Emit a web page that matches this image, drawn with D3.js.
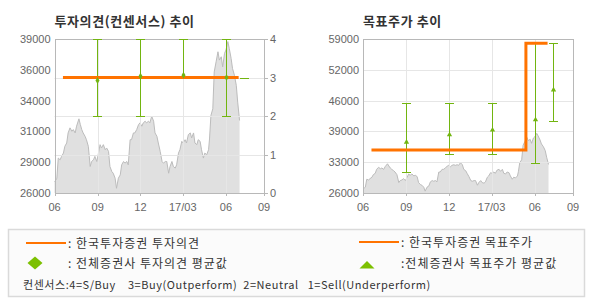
<!DOCTYPE html>
<html>
<head>
<meta charset="utf-8">
<script src="https://cdn.jsdelivr.net/npm/d3@7"></script>
<style>
body { margin: 0; background: #fff; }
.axis-text { font-family: "Liberation Sans", Arial, sans-serif; font-size: 11px; fill: #666; }
.kr { font-family: "Noto Sans CJK KR", sans-serif; }
</style>
</head>
<body>
<svg id="chart" width="590" height="300"></svg>
<script>
// stock price (gray area)
var priceDates = ["2016-06-01","2016-06-04","2016-06-06","2016-06-09","2016-06-13","2016-06-16","2016-06-20","2016-06-23","2016-06-27","2016-06-30",
  "2016-07-04","2016-07-08","2016-07-11","2016-07-15","2016-07-18","2016-07-23","2016-07-26","2016-07-29","2016-08-01","2016-08-05",
  "2016-08-08","2016-08-12","2016-08-16","2016-08-19","2016-08-23","2016-08-26","2016-08-30","2016-09-02","2016-09-06","2016-09-09",
  "2016-09-13","2016-09-17","2016-09-20","2016-09-24","2016-09-27","2016-10-01","2016-10-04","2016-10-08","2016-10-11","2016-10-15",
  "2016-10-19","2016-10-22","2016-10-26","2016-10-29","2016-11-02","2016-11-05","2016-11-09","2016-11-12","2016-11-16","2016-11-19",
  "2016-11-23","2016-11-27","2016-11-30","2016-12-04","2016-12-07","2016-12-11","2016-12-14","2016-12-18","2016-12-21","2016-12-25",
  "2016-12-29","2017-01-01","2017-01-05","2017-01-08","2017-01-12","2017-01-16","2017-01-19","2017-01-23","2017-01-26","2017-01-30",
  "2017-02-02","2017-02-06","2017-02-09","2017-02-13","2017-02-16","2017-02-20","2017-02-23","2017-02-27","2017-03-02","2017-03-06",
  "2017-03-09","2017-03-13","2017-03-17","2017-03-20","2017-03-24","2017-03-27","2017-03-31","2017-04-03","2017-04-07","2017-04-10",
  "2017-04-14","2017-04-17","2017-04-21","2017-04-25","2017-04-27","2017-04-30","2017-05-04","2017-05-07","2017-05-11","2017-05-15",
  "2017-05-18","2017-05-22","2017-05-25","2017-05-29","2017-06-01","2017-06-05","2017-06-08","2017-06-12","2017-06-15","2017-06-19",
  "2017-06-23","2017-06-26","2017-06-30"];
var prices = [26960,27100,27250,28950,28800,29090,29370,29940,30220,31070,
  31500,31210,31350,31070,31640,32260,31780,31350,31070,30790,
  30500,29940,28240,28660,28800,29090,28660,29230,30080,29800,
  30080,29650,29800,29510,28240,27810,27670,27250,26400,27250,
  27530,28380,28660,28520,28660,28380,30500,30500,31070,31070,
  31350,31780,31920,31640,31920,32060,31920,32060,31920,32480,
  32060,31070,30790,30220,29510,28660,28520,28660,28660,27670,
  28240,28660,28240,28100,28380,29370,29650,30360,30220,30500,
  30220,30930,31070,30650,31070,30220,30080,30500,30360,29650,
  28950,29370,29230,29650,30560,32540,33110,36220,37070,37920,
  37220,37500,36650,37790,38070,38780,38210,37360,36510,35940,
  35090,33670,32120];

// x axis
var xTickDates = ["2016-06-01","2016-09-01","2016-12-01","2017-03-01","2017-06-01","2017-08-21"];
var xTickLabels = ["06","09","12","17/03","06","09"];

// consensus (all brokers) dates
var consDates = ["2016-08-31","2016-12-01","2017-03-02","2017-06-01","2017-07-10"];
var opinionHigh = [4, 4, 4, 4, 3];
var opinionLow = [2, 2, 3, 2, 3];
var opinionAvg = [2.92, 3.03, 3.06, 3.0, null];
var targetHigh = [45300, 45300, 45300, 58100, 58100];
var targetLow = [30500, 34400, 34400, 32400, 41400];
var targetAvg = [36900, 38500, 39500, 41700, 48100];

// 한국투자증권 own opinion / target
var kisOpinionDates = ["2016-06-19", "2017-06-28"];
var kisOpinion = [3, 3];
var kisTargetDates = ["2016-06-19", "2017-05-13", "2017-06-28"];
var kisTarget = [35200, 58100, 58100];

// y axis labels
var leftPriceLabels = ["26000","29000","31000","34000","36000","39000"];
var rightPriceLabels = ["26000","33000","39000","46000","52000","59000"];
var opinionTicks = [0, 1, 2, 3, 4];

var ORANGE = "#ff7300", GREEN = "#72b510", GRID = "#e6e6e6", FRAME = "#b8b8b8";

var svg = d3.select("#chart");
svg.append("rect").attr("width", 590).attr("height", 300).attr("fill", "#fff");

var parse = d3.timeParse("%Y-%m-%d");
var priceData = priceDates.map(function(d, i) { return {date: parse(d), value: prices[i]}; });
function crisp(v) { return Math.round(v) + 0.5; }

function drawPanel(p) {
  var g = svg.append("g");
  var top = 39, bottom = 193;
  var x = d3.scaleTime()
    .domain([parse(xTickDates[0]), parse(xTickDates[xTickDates.length - 1])])
    .range([p.left, p.right]);
  var y = d3.scaleLinear().domain([26000, p.priceMax]).range([bottom, top]);
  var priceTicks = d3.range(6).map(function(i) { return 26000 + i * (p.priceMax - 26000) / 5; });

  // title
  g.append("text").attr("class", "kr")
    .attr("x", p.left).attr("y", 26)
    .attr("font-size", "13px").attr("font-weight", "bold").attr("fill", "#333")
    .attr("letter-spacing", "0.6px")
    .text(p.title);

  // price area
  g.append("path").datum(priceData)
    .attr("fill", "#e0e0e0")
    .attr("d", d3.area().x(function(d) { return x(d.date); }).y0(bottom).y1(function(d) { return y(d.value); }));
  g.append("path").datum(priceData)
    .attr("fill", "none").attr("stroke", "#bcbcbc").attr("stroke-width", 1)
    .attr("d", d3.line().x(function(d) { return x(d.date); }).y(function(d) { return y(d.value); }));

  // grid
  var yG = p.gridScale || y;
  var gridVals = p.gridScale ? opinionTicks : priceTicks;
  g.selectAll(".hgrid").data(gridVals.slice(1, -1)).enter().append("line")
    .attr("x1", p.left).attr("x2", p.right)
    .attr("y1", function(d) { return crisp(yG(d)); }).attr("y2", function(d) { return crisp(yG(d)); })
    .attr("stroke", GRID);
  g.selectAll(".vgrid").data(xTickDates.slice(1, -1)).enter().append("line")
    .attr("x1", function(d) { return crisp(x(parse(d))); }).attr("x2", function(d) { return crisp(x(parse(d))); })
    .attr("y1", top).attr("y2", bottom)
    .attr("stroke", GRID);

  // frame
  g.append("rect")
    .attr("x", crisp(p.left)).attr("y", crisp(top))
    .attr("width", Math.round(p.right) - Math.round(p.left)).attr("height", bottom - top)
    .attr("fill", "none").attr("stroke", FRAME);

  // left price axis labels
  g.selectAll(".ylab").data(priceTicks).enter().append("text")
    .attr("class", "axis-text")
    .attr("x", p.left - 4).attr("y", function(d) { return y(d) + 4; })
    .attr("text-anchor", "end")
    .text(function(d, i) { return p.priceLabels[i]; });

  // right opinion axis
  if (p.gridScale) {
    g.selectAll(".rtick").data(opinionTicks).enter().append("line")
      .attr("x1", p.right).attr("x2", p.right + 4)
      .attr("y1", function(d) { return crisp(yG(d)); }).attr("y2", function(d) { return crisp(yG(d)); })
      .attr("stroke", FRAME);
    g.selectAll(".rlab").data(opinionTicks).enter().append("text")
      .attr("class", "axis-text")
      .attr("x", p.right + 6).attr("y", function(d) { return yG(d) + 4; })
      .text(function(d) { return d; });
  }

  // x axis
  g.selectAll(".xtick").data(xTickDates).enter().append("line")
    .attr("x1", function(d) { return crisp(x(parse(d))); }).attr("x2", function(d) { return crisp(x(parse(d))); })
    .attr("y1", bottom).attr("y2", bottom + 3)
    .attr("stroke", FRAME);
  g.selectAll(".xlab").data(xTickDates).enter().append("text")
    .attr("class", "axis-text")
    .attr("x", function(d) { return x(parse(d)); }).attr("y", 211)
    .attr("text-anchor", "middle")
    .text(function(d, i) { return xTickLabels[i]; });

  // consensus error bars
  var ys = p.consScale;
  consDates.forEach(function(d, i) {
    var cx = crisp(x(parse(d)));
    var hi = Math.round(ys(p.high[i])) + 0.5, lo = Math.round(ys(p.low[i])) + 0.5;
    g.append("line").attr("x1", cx).attr("x2", cx).attr("y1", hi).attr("y2", lo).attr("stroke", GREEN);
    [hi, lo].forEach(function(v) {
      g.append("line").attr("x1", cx - 4.5).attr("x2", cx + 4.5).attr("y1", v).attr("y2", v).attr("stroke", GREEN);
    });
  });

  // 한국투자증권 line
  var own = p.ownDates.map(function(d, i) { return {date: parse(d), value: p.ownValues[i]}; });
  g.append("path").datum(own)
    .attr("fill", "none").attr("stroke", ORANGE).attr("stroke-width", 3)
    .attr("d", d3.line().curve(d3.curveStepAfter)
      .x(function(d) { return x(d.date); }).y(function(d) { return ys(d.value); }));

  // average markers
  consDates.forEach(function(d, i) {
    if (p.avg[i] == null) return;
    g.append("path")
      .attr("transform", "translate(" + (crisp(x(parse(d)))) + "," + ys(p.avg[i]) + ")")
      .attr("d", d3.symbol().type(p.symbol).size(p.symbolSize)())
      .attr("fill", GREEN);
  });
}

var opinionScale = d3.scaleLinear().domain([0, 4]).range([193, 39]);
drawPanel({
  title: "투자의견(컨센서스) 추이", left: 54.5, right: 264, priceMax: 39000,
  priceLabels: leftPriceLabels, gridScale: opinionScale, consScale: opinionScale,
  high: opinionHigh, low: opinionLow, avg: opinionAvg,
  ownDates: kisOpinionDates, ownValues: kisOpinion,
  symbol: d3.symbolDiamond, symbolSize: 14
});
var targetScale = d3.scaleLinear().domain([26000, 59000]).range([193, 39]);
drawPanel({
  title: "목표주가 추이", left: 363, right: 573, priceMax: 59000,
  priceLabels: rightPriceLabels, gridScale: null, consScale: targetScale,
  high: targetHigh, low: targetLow, avg: targetAvg,
  ownDates: kisTargetDates, ownValues: kisTarget,
  symbol: d3.symbolTriangle, symbolSize: 12
});

// legend
var legend = svg.append("g");
legend.append("rect").attr("x", 8.5).attr("y", 229.5).attr("width", 576).attr("height", 67)
  .attr("fill", "#fbfbfb").attr("stroke", "#dadada").attr("stroke-width", 1.5);

var legendLines = [
  {x: 26, y: 243, text: ": 한국투자증권 투자의견", tx: 68},
  {x: 359, y: 242, text: ": 한국투자증권 목표주가", tx: 401}
];
legendLines.forEach(function(l) {
  legend.append("line").attr("x1", l.x).attr("x2", l.x + 40).attr("y1", l.y).attr("y2", l.y)
    .attr("stroke", ORANGE).attr("stroke-width", 2);
  legend.append("text").attr("class", "kr").attr("x", l.tx).attr("y", l.y + 4.5)
    .attr("font-size", "12px").attr("fill", "#333").attr("letter-spacing", "1px").text(l.text);
});
legend.append("path").attr("transform", "translate(35,263)")
  .attr("d", "M0,-6.5L7.5,0L0,6.5L-7.5,0Z").attr("fill", "#7cc000");
legend.append("text").attr("class", "kr").attr("x", 68).attr("y", 268)
  .attr("font-size", "12px").attr("fill", "#333").attr("letter-spacing", "1px").text(": 전체증권사 투자의견 평균값");
legend.append("path").attr("transform", "translate(367,265)")
  .attr("d", "M-7.5,3.5L0,-4L7.5,3.5Z").attr("fill", "#7cc000");
legend.append("text").attr("class", "kr").attr("x", 401).attr("y", 268)
  .attr("font-size", "12px").attr("fill", "#333").attr("letter-spacing", "1px").text(":전체증권사 목표주가 평균값");
legend.append("text").attr("class", "kr").attr("x", 23).attr("y", 289)
  .attr("font-size", "11px").attr("fill", "#333").attr("letter-spacing", "0.55px")
  .style("white-space", "pre")
  .text("컨센서스:4=S/Buy    3=Buy(Outperform)  2=Neutral   1=Sell(Underperform)");
</script>
</body>
</html>
